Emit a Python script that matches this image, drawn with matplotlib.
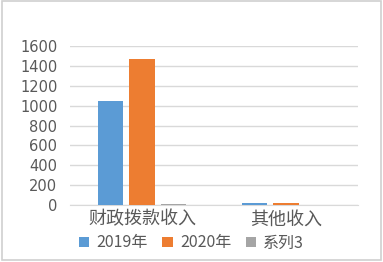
import matplotlib
matplotlib.use("Agg")
import matplotlib.pyplot as plt
import numpy as np
from matplotlib.patches import Rectangle

plt.rcParams['font.family'] = ['Noto Sans CJK SC', 'DejaVu Sans']

categories = ["财政拨款收入", "其他收入"]
series_names = ["2019年", "2020年", "系列3"]
s2019 = [1048, 25]
s2020 = [1470, 17]
s3 = [8, 0]
colors = ["#5b9bd5", "#ed7d31", "#a5a5a5"]
yticks = [0, 200, 400, 600, 800, 1000, 1200, 1400, 1600]

fig = plt.figure(figsize=(3.83, 2.62), dpi=100)
fig.patches.append(Rectangle((0.004, 0.006), 0.99, 0.99, transform=fig.transFigure,
                             fill=False, edgecolor="#d0d0d0", linewidth=1.2))
ax = fig.add_axes([70/383, 1-205/262, 288/383, 159/262])

x = np.arange(len(categories))
w = 0.174
step = 0.222
for i, (vals, name, c) in enumerate(zip([s2019, s2020, s3], series_names, colors)):
    ax.bar(x + (i - 1) * step, vals, width=w, color=c, label=name, zorder=3)

ax.set_xlim(-0.5, 1.5)
ax.set_ylim(0, 1600)
ax.set_yticks(yticks)
ax.set_yticklabels([str(v) for v in yticks], fontsize=10.5, family=['DejaVu Sans'])
ax.yaxis.grid(True, color="#d9d9d9", linewidth=1, zorder=0)
for s in ["top", "right", "left"]:
    ax.spines[s].set_visible(False)
ax.spines["bottom"].set_color("#d9d9d9")
ax.tick_params(axis="both", length=0, colors="#595959")
ax.tick_params(axis="y", pad=9)
ax.set_xticks(x)
ax.set_xticklabels(categories, fontsize=13, fontweight="light")
ax.tick_params(axis="x", pad=4)

fig.legend(loc="center", bbox_to_anchor=(0.5, 1-243/262), ncol=3, frameon=False,
           handlelength=0.65, handleheight=0.65, handletextpad=0.45,
           columnspacing=0.9, labelcolor="#595959", prop={'size': 11.5, 'weight': 'light'})

fig.savefig("out.png", dpi=100)
